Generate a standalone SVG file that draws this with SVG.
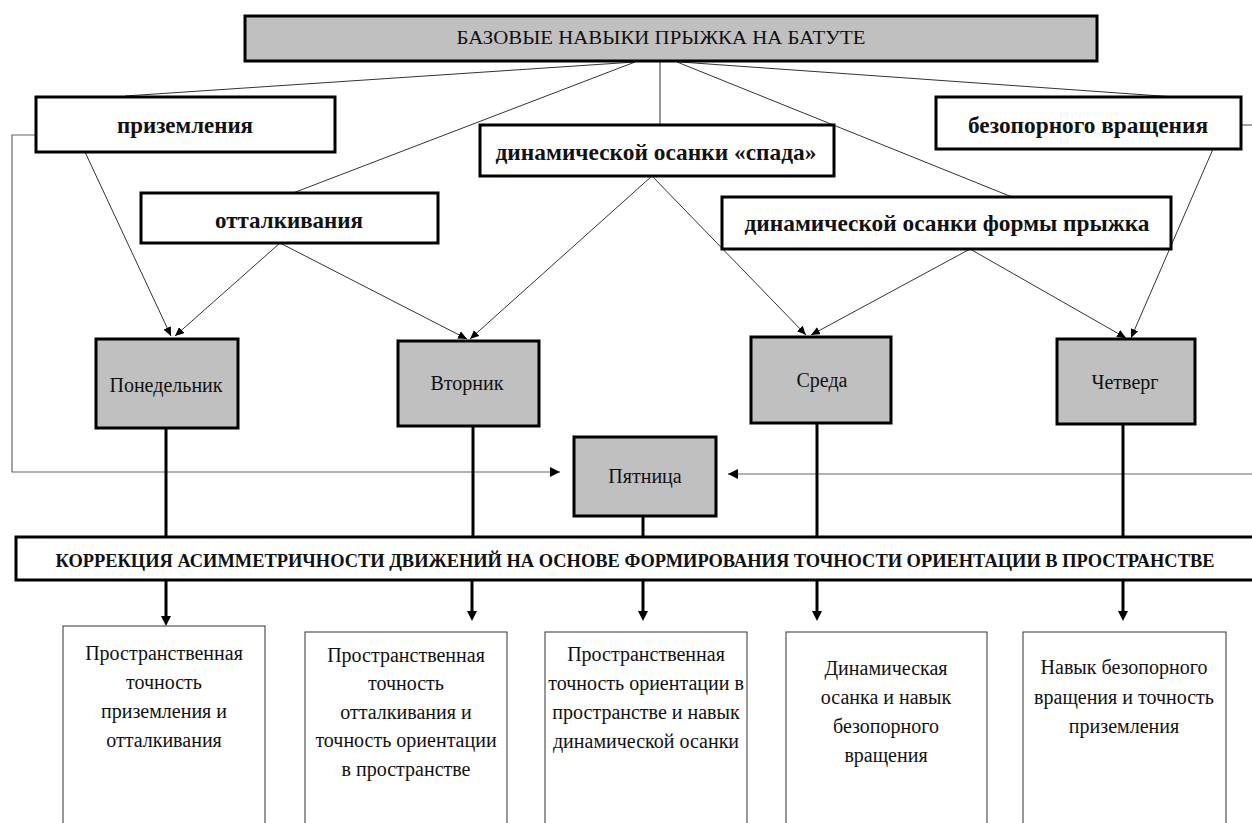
<svg xmlns="http://www.w3.org/2000/svg" width="1252" height="823" viewBox="0 0 1252 823">
<style>
text{font-family:"Liberation Serif","Times New Roman",serif;fill:#111;text-anchor:middle}
.b{font-weight:bold;font-size:23px}
.d{font-size:20px}
.t{font-size:20px}
.gray{fill:#c0c0c0;stroke:#000;stroke-width:3}
.wb{fill:#fff;stroke:#000;stroke-width:3}
.wt{fill:#fff;stroke:#333;stroke-width:1}
.thin{stroke:#333;stroke-width:1;fill:none}
.fb{stroke:#666;stroke-width:1.2;fill:none}
.thick{stroke:#000;stroke-width:3;fill:none}
</style>
<defs>
<marker id="a" markerWidth="9" markerHeight="8" refX="9" refY="4" orient="auto" markerUnits="userSpaceOnUse"><path d="M0,0 L9,4 L0,8 z" fill="#000"/></marker>
<marker id="f" markerWidth="10" markerHeight="10" refX="10" refY="5" orient="auto" markerUnits="userSpaceOnUse"><path d="M0,0 L10,5 L0,10 z" fill="#000"/></marker>
<marker id="k" markerWidth="10" markerHeight="10" refX="1" refY="5" orient="auto" markerUnits="userSpaceOnUse"><path d="M0,0 L10,5 L0,10 z" fill="#000"/></marker>
</defs>
<rect width="1252" height="823" fill="#fff"/>

<g id="connectors">
<path class="thin" d="M635,62 L125,96"/>
<path class="thin" d="M635,62 L293,193"/>
<path class="thin" d="M660,62 L660,125"/>
<path class="thin" d="M677,62 L1012,197"/>
<path class="thin" d="M680,62 L1175,97"/>
<path class="thin" d="M85,152 L171,336" marker-end="url(#a)"/>
<path class="thin" d="M280,243 L175,336" marker-end="url(#a)"/>
<path class="thin" d="M280,243 L467,339" marker-end="url(#a)"/>
<path class="thin" d="M652,176 L470,339" marker-end="url(#a)"/>
<path class="thin" d="M652,176 L806,335" marker-end="url(#a)"/>
<path class="thin" d="M970,249 L811,335" marker-end="url(#a)"/>
<path class="thin" d="M970,249 L1126,338" marker-end="url(#a)"/>
<path class="thin" d="M1213,149 L1131,338" marker-end="url(#a)"/>
<path class="fb" d="M36,135 L12,135 L12,472 L560,472" marker-end="url(#f)"/>
<path class="fb" d="M1241,125 L1256,125"/>
<path class="fb" d="M1256,474 L728,474" marker-end="url(#f)"/>
<path class="thick" d="M166,428 L166,537"/>
<path class="thick" d="M473,426 L473,537"/>
<path class="thick" d="M643,516 L643,537"/>
<path class="thick" d="M817,423 L817,537"/>
<path class="thick" d="M1123,424 L1123,537"/>
<path class="thick" d="M166,580 L166,617" marker-end="url(#k)"/>
<path class="thick" d="M472,580 L472,612" marker-end="url(#k)"/>
<path class="thick" d="M643,580 L643,612" marker-end="url(#k)"/>
<path class="thick" d="M817,580 L817,612" marker-end="url(#k)"/>
<path class="thick" d="M1123,580 L1123,612" marker-end="url(#k)"/>
</g>

<g id="title">
<rect class="gray" x="245" y="16" width="852" height="45"/>
<text x="661" y="44" font-size="19" textLength="409" lengthAdjust="spacingAndGlyphs">БАЗОВЫЕ НАВЫКИ ПРЫЖКА НА БАТУТЕ</text>
</g>

<g id="n-prizemleniya">
<rect class="wb" x="36" y="97" width="299" height="55"/>
<text class="b" x="185" y="133" textLength="136" lengthAdjust="spacingAndGlyphs">приземления</text>
</g>
<g id="n-ottalkivaniya">
<rect class="wb" x="141" y="193" width="297" height="50"/>
<text class="b" x="289" y="228" textLength="148" lengthAdjust="spacingAndGlyphs">отталкивания</text>
</g>
<g id="n-spada">
<rect class="wb" x="480" y="125" width="354" height="51"/>
<text class="b" x="656" y="160" textLength="321" lengthAdjust="spacingAndGlyphs">динамической осанки «спада»</text>
</g>
<g id="n-formy">
<rect class="wb" x="722" y="197" width="449" height="52"/>
<text class="b" x="947" y="231" textLength="405" lengthAdjust="spacingAndGlyphs">динамической осанки формы прыжка</text>
</g>
<g id="n-bezopornogo">
<rect class="wb" x="936" y="97" width="305" height="52"/>
<text class="b" x="1088" y="133" textLength="240" lengthAdjust="spacingAndGlyphs">безопорного вращения</text>
</g>

<g id="d-mon">
<rect class="gray" x="96" y="339" width="142" height="89"/>
<text class="d" x="166" y="392">Понедельник</text>
</g>
<g id="d-tue">
<rect class="gray" x="398" y="341" width="141" height="85"/>
<text class="d" x="467" y="390">Вторник</text>
</g>
<g id="d-wed">
<rect class="gray" x="751" y="337" width="140" height="86"/>
<text class="d" x="822" y="387">Среда</text>
</g>
<g id="d-thu">
<rect class="gray" x="1057" y="339" width="138" height="85"/>
<text class="d" x="1125" y="389">Четверг</text>
</g>
<g id="d-fri">
<rect class="gray" x="574" y="437" width="142" height="79"/>
<text class="d" x="645" y="483">Пятница</text>
</g>

<g id="correction">
<rect class="wb" x="16" y="537" width="1250" height="43"/>
<text x="635" y="567" font-size="18" font-weight="bold" textLength="1159" lengthAdjust="spacingAndGlyphs">КОРРЕКЦИЯ АСИММЕТРИЧНОСТИ ДВИЖЕНИЙ НА ОСНОВЕ ФОРМИРОВАНИЯ ТОЧНОСТИ ОРИЕНТАЦИИ В ПРОСТРАНСТВЕ</text>
</g>

<g id="r1">
<rect class="wt" x="63" y="626" width="202" height="210"/>
<text class="t" x="164" y="660">Пространственная</text>
<text class="t" x="164" y="689">точность</text>
<text class="t" x="164" y="718">приземления и</text>
<text class="t" x="164" y="747">отталкивания</text>
</g>
<g id="r2">
<rect class="wt" x="305" y="632" width="202" height="210"/>
<text class="t" x="406" y="662">Пространственная</text>
<text class="t" x="406" y="690">точность</text>
<text class="t" x="406" y="719">отталкивания и</text>
<text class="t" x="406" y="747">точность ориентации</text>
<text class="t" x="406" y="776">в пространстве</text>
</g>
<g id="r3">
<rect class="wt" x="545" y="632" width="202" height="210"/>
<text class="t" x="646" y="661">Пространственная</text>
<text class="t" x="646" y="690">точность ориентации в</text>
<text class="t" x="646" y="719">пространстве и навык</text>
<text class="t" x="646" y="748">динамической осанки</text>
</g>
<g id="r4">
<rect class="wt" x="786" y="632" width="201" height="210"/>
<text class="t" x="886" y="675">Динамическая</text>
<text class="t" x="886" y="704">осанка и навык</text>
<text class="t" x="886" y="733">безопорного</text>
<text class="t" x="886" y="762">вращения</text>
</g>
<g id="r5">
<rect class="wt" x="1023" y="632" width="203" height="210"/>
<text class="t" x="1124" y="674">Навык безопорного</text>
<text class="t" x="1124" y="704">вращения и точность</text>
<text class="t" x="1124" y="733">приземления</text>
</g>
</svg>
